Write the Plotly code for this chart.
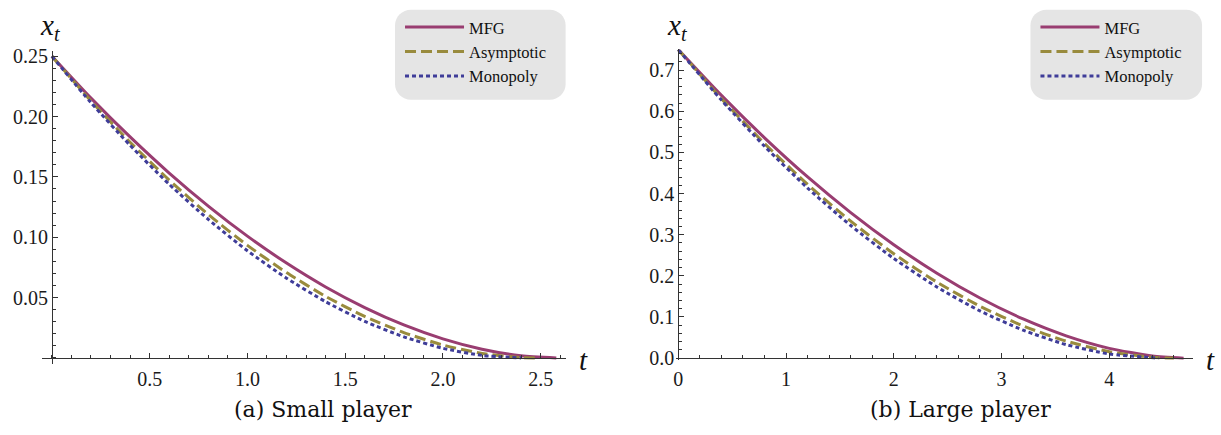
import plotly.graph_objects as go

# ---------------- data ----------------
series_names = ["MFG", "Asymptotic", "Monopoly"]
series_colors = ["#993D71", "#998B3D", "#3F3D99"]

# (a) Small player
t_mfg_small = [0, 0.2, 0.4, 0.6, 0.8, 1.0, 1.2, 1.4, 1.6, 1.8, 2.0, 2.2, 2.4, 2.58]
x_mfg_small = [0.25, 0.2153, 0.1831, 0.1532, 0.1258, 0.1009, 0.0786, 0.0588, 0.0417, 0.0273, 0.0158, 0.0072, 0.0018, 0.0]
t_asym_small = [0, 0.2, 0.4, 0.6, 0.8, 1.0, 1.2, 1.4, 1.6, 1.8, 2.0, 2.2, 2.4, 2.47]
x_asym_small = [0.25, 0.2129, 0.1787, 0.1474, 0.1188, 0.0933, 0.0707, 0.0510, 0.0344, 0.0210, 0.0107, 0.0037, 0.0003, 0.0]
t_mono_small = [0, 0.2, 0.4, 0.6, 0.8, 1.0, 1.2, 1.4, 1.6, 1.8, 2.0, 2.2, 2.40]
x_mono_small = [0.25, 0.2115, 0.1762, 0.1439, 0.1148, 0.0888, 0.0661, 0.0466, 0.0303, 0.0175, 0.0080, 0.0021, 0.0]

# (b) Large player
t_mfg_large = [0, 0.4, 0.8, 1.2, 1.6, 2.0, 2.4, 2.8, 3.2, 3.6, 4.0, 4.4, 4.69]
x_mfg_large = [0.75, 0.6388, 0.5356, 0.4405, 0.3539, 0.2758, 0.2064, 0.1461, 0.0952, 0.0542, 0.0238, 0.0050, 0.0]
t_asym_large = [0, 0.4, 0.8, 1.2, 1.6, 2.0, 2.4, 2.8, 3.2, 3.6, 4.0, 4.4, 4.6]
x_asym_large = [0.75, 0.6309, 0.5217, 0.4223, 0.3329, 0.2537, 0.1847, 0.1262, 0.0782, 0.0413, 0.0157, 0.0019, 0.0]
t_mono_large = [0, 0.4, 0.8, 1.2, 1.6, 2.0, 2.4, 2.8, 3.2, 3.6, 4.0, 4.46]
x_mono_large = [0.75, 0.6273, 0.5151, 0.4134, 0.3224, 0.2422, 0.1729, 0.1147, 0.0680, 0.0329, 0.0100, 0.0]

# tick labels
xticks_small = [0.5, 1.0, 1.5, 2.0, 2.5]
xticklabels_small = ["0.5", "1.0", "1.5", "2.0", "2.5"]
yticks_small = [0.05, 0.10, 0.15, 0.20, 0.25]
yticklabels_small = ["0.05", "0.10", "0.15", "0.20", "0.25"]
xticks_large = [0, 1, 2, 3, 4]
xticklabels_large = ["0", "1", "2", "3", "4"]
yticks_large = [0.0, 0.1, 0.2, 0.3, 0.4, 0.5, 0.6, 0.7]
yticklabels_large = ["0.0", "0.1", "0.2", "0.3", "0.4", "0.5", "0.6", "0.7"]

captions = ["(a) Small player", "(b) Large player"]

# ---------------- figure ----------------
W, H = 1221, 435
def fx(px):
    return px / W
def fy(py):
    return 1 - py / H

dashes = ["solid", "11px,5px", "4px,3px"]
fig = go.Figure()

small = [(t_mfg_small, x_mfg_small), (t_asym_small, x_asym_small), (t_mono_small, x_mono_small)]
large = [(t_mfg_large, x_mfg_large), (t_asym_large, x_asym_large), (t_mono_large, x_mono_large)]

for i, (t, x) in enumerate(small):
    fig.add_trace(go.Scatter(x=t, y=x, mode="lines", name=series_names[i],
                             line=dict(color=series_colors[i], width=3, dash=dashes[i], shape="spline", smoothing=0.6),
                             xaxis="x", yaxis="y", legend="legend", legendgroup="a%d" % i))
for i, (t, x) in enumerate(large):
    fig.add_trace(go.Scatter(x=t, y=x, mode="lines", name=series_names[i],
                             line=dict(color=series_colors[i], width=3, dash=dashes[i], shape="spline", smoothing=0.6),
                             xaxis="x2", yaxis="y2", legend="legend2", legendgroup="b%d" % i))

TICK_FAMILY = "Liberation Serif"
TICK_SIZE = 20
axcol = "#333"

def axis(**kw):
    d = dict(showgrid=False, zeroline=False, showline=True, linecolor=axcol, linewidth=1,
             ticks="inside", ticklen=5, tickwidth=1, tickcolor=axcol,
             tickfont=dict(family=TICK_FAMILY, size=TICK_SIZE, color="#1a1a1a"),
             fixedrange=True)
    d.update(kw)
    return d

# left panel geometry (pixels)
L_x0px, L_x1px = 39, 564      # axis line span
L_y0px, L_y1px = 47, 371
L_ox, L_oy = 49, 364.5        # origin
L_sx, L_sy = 196.0, 1250.0    # px per unit
lx_range = [(L_x0px - L_ox) / L_sx, (L_x1px - L_ox) / L_sx]
ly_range = [(L_oy - L_y1px) / L_sy, (L_oy - L_y0px) / L_sy]

# right panel geometry
R_ox, R_oy = 677, 364.7
R_sx, R_sy = 108.0, 426.0
R_x0px, R_x1px = 675, 1192.7
R_y0px, R_y1px = 45, 366.5
rx_range = [(R_x0px - R_ox) / R_sx, (R_x1px - R_ox) / R_sx]
ry_range = [(R_oy - R_y1px) / R_sy, (R_oy - R_y0px) / R_sy]

legend_font = dict(family="Liberation Serif", size=16.5, color="#111")

fig.update_layout(
    width=W, height=H, autosize=False,
    margin=dict(l=0, r=0, t=0, b=0),
    paper_bgcolor="white", plot_bgcolor="rgba(0,0,0,0)",
    showlegend=True,
)
fig.update_layout(
    xaxis=axis(domain=[fx(L_x0px), fx(L_x1px)], range=lx_range, anchor="free", position=fy(L_oy),
               tickmode="array", tickvals=xticks_small, ticktext=xticklabels_small, ticklabelstandoff=3,
               minor=dict(ticks="inside", ticklen=3, tickcolor=axcol, tickmode="linear", tick0=0, dtick=0.1)),
    yaxis=axis(domain=[fy(L_y1px), fy(L_y0px)], range=ly_range, anchor="free", position=fx(L_ox),
               tickmode="array", tickvals=yticks_small, ticktext=yticklabels_small,
               minor=dict(ticks="inside", ticklen=3, tickcolor=axcol, tickmode="linear", tick0=0, dtick=0.01)),
    xaxis2=axis(domain=[fx(R_x0px), fx(R_x1px)], range=rx_range, anchor="free", position=fy(R_oy),
                tickmode="array", tickvals=xticks_large, ticktext=xticklabels_large, ticklabelstandoff=3,
                minor=dict(ticks="inside", ticklen=3, tickcolor=axcol, tickmode="linear", tick0=0, dtick=0.2)),
    yaxis2=axis(domain=[fy(R_y1px), fy(R_y0px)], range=ry_range, anchor="free", position=fx(R_ox),
                tickmode="array", tickvals=yticks_large, ticktext=yticklabels_large,
                minor=dict(ticks="inside", ticklen=3, tickcolor=axcol, tickmode="linear", tick0=0, dtick=0.02)),
    legend=dict(x=fx(398), y=fy(4), xanchor="left", yanchor="top", bgcolor="rgba(0,0,0,0)",
                font=legend_font, itemwidth=59,
                tracegroupgap=0, itemclick=False, itemdoubleclick=False),
    legend2=dict(x=fx(1035), y=fy(4), xanchor="left", yanchor="top", bgcolor="rgba(0,0,0,0)",
                 font=legend_font, itemwidth=59,
                 tracegroupgap=0, itemclick=False, itemdoubleclick=False),
)

def rounded_rect(x0, y0, x1, y1, r):
    X = lambda p: fx(p)
    Y = lambda p: fy(p)
    return (f"M {X(x0 + r)} {Y(y0)} L {X(x1 - r)} {Y(y0)} "
            f"C {X(x1 - r + 0.55 * r)} {Y(y0)} {X(x1)} {Y(y0 + r - 0.55 * r)} {X(x1)} {Y(y0 + r)} "
            f"L {X(x1)} {Y(y1 - r)} "
            f"C {X(x1)} {Y(y1 - r + 0.55 * r)} {X(x1 - r + 0.55 * r)} {Y(y1)} {X(x1 - r)} {Y(y1)} "
            f"L {X(x0 + r)} {Y(y1)} "
            f"C {X(x0 + r - 0.55 * r)} {Y(y1)} {X(x0)} {Y(y1 - r + 0.55 * r)} {X(x0)} {Y(y1 - r)} "
            f"L {X(x0)} {Y(y0 + r)} "
            f"C {X(x0)} {Y(y0 + r - 0.55 * r)} {X(x0 + r - 0.55 * r)} {Y(y0)} {X(x0 + r)} {Y(y0)} Z")

for (x0, x1) in [(393, 564), (1030, 1202)]:
    fig.add_shape(type="path", path=rounded_rect(x0, 4, x1, 97, 16), xref="paper", yref="paper",
                  fillcolor="#e5e5e5", line=dict(width=0), layer="below")

lab_font = dict(family="Liberation Serif", size=29, color="#111")
anns = [
    dict(x=fx(48), y=fy(22), text="<i>x</i><sub><i>t</i></sub>"),
    dict(x=fx(676), y=fy(22), text="<i>x</i><sub><i>t</i></sub>"),
    dict(x=fx(582), y=fy(367), text="<i>t</i>"),
    dict(x=fx(1210), y=fy(367), text="<i>t</i>"),
]
for a in anns:
    fig.add_annotation(xref="paper", yref="paper", showarrow=False, xanchor="center", yanchor="middle",
                       font=lab_font, **a)

cap_font = dict(family="DejaVu Serif", size=22, color="#111")
fig.add_annotation(xref="paper", yref="paper", x=fx(321), y=fy(418), text=captions[0], showarrow=False,
                   xanchor="center", yanchor="middle", font=cap_font)
fig.add_annotation(xref="paper", yref="paper", x=fx(960), y=fy(418), text=captions[1], showarrow=False,
                   xanchor="center", yanchor="middle", font=cap_font)

fig.write_html("out.html")
